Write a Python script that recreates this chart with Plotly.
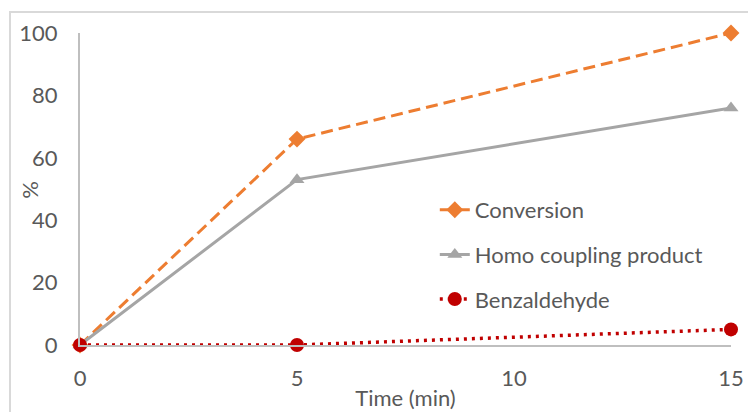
import plotly.graph_objects as go

# Reaction time course
time_min = [0, 5, 15]
conversion = [0, 66, 100]
homo_coupling = [0, 53, 76]
benzaldehyde = [0, 0, 5]

x_ticks = [0, 5, 10, 15]
y_ticks = [0, 20, 40, 60, 80, 100]

FONT = "Lato"
TEXT = "#595959"
SIZE = 22

fig = go.Figure()
fig.add_trace(go.Scatter(
    x=time_min, y=conversion, name="Conversion", legendgroup="a",
    mode="lines+markers", cliponaxis=False,
    line=dict(color="#ed7d31", width=3, dash="12px,6px"),
    marker=dict(symbol="diamond", size=13, color="#ed7d31"),
))
fig.add_trace(go.Scatter(
    x=time_min, y=homo_coupling, name="Homo coupling product", legendgroup="b",
    mode="lines+markers", cliponaxis=False,
    line=dict(color="#a5a5a5", width=3),
    marker=dict(symbol="triangle-up", size=13, color="#a5a5a5"),
))
fig.add_trace(go.Scatter(
    x=time_min, y=benzaldehyde, name="Benzaldehyde", legendgroup="c",
    mode="lines+markers", cliponaxis=False,
    line=dict(color="#c00000", width=3.5, dash="3px,5px"),
    marker=dict(symbol="circle", size=14, color="#c00000"),
))

# chart-area frame
fig.add_shape(type="rect", xref="paper", yref="paper",
              x0=-0.1075, x1=1.2, y0=-0.4, y1=1.067,
              line=dict(color="#d9d9d9", width=2), layer="below")

# y-axis title
fig.add_annotation(text="%", xref="paper", yref="paper", x=-0.077, y=0.497,
                   showarrow=False, textangle=-90, xanchor="center", yanchor="middle",
                   font=dict(family=FONT, size=SIZE, color=TEXT))

fig.update_layout(
    width=748, height=412,
    margin=dict(l=80, r=17, t=33, b=67),
    paper_bgcolor="white", plot_bgcolor="white",
    font=dict(family=FONT, size=SIZE, color=TEXT),
    showlegend=True,
    legend=dict(x=0.545, y=0.5, xanchor="left", yanchor="top",
                bgcolor="rgba(0,0,0,0)", tracegroupgap=13,
                font=dict(family=FONT, size=SIZE, color=TEXT)),
    xaxis=dict(range=[0, 15], tickvals=x_ticks, showgrid=False, zeroline=False,
               showline=True, linecolor="#bfbfbf", linewidth=2, ticks="",
               ticklabelstandoff=13, automargin=False,
               title=dict(text="Time (min)", standoff=0, font=dict(size=SIZE))),
    yaxis=dict(range=[0, 100], tickvals=y_ticks, showgrid=False, zeroline=False,
               showline=True, linecolor="#bfbfbf", linewidth=2, ticks="",
               ticklabelstandoff=16, automargin=False),
)

fig.write_html("out.html")
